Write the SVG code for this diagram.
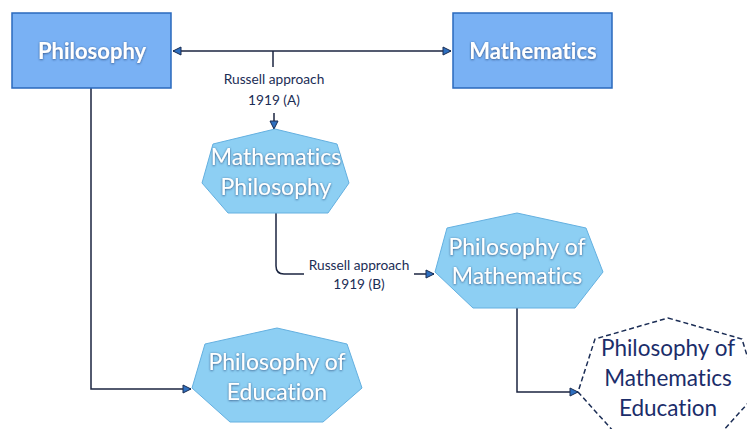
<svg xmlns="http://www.w3.org/2000/svg" width="747" height="429" viewBox="0 0 747 429">
<defs>
<marker id="arr" viewBox="0 0 10 10" refX="9" refY="5" markerWidth="10" markerHeight="10" markerUnits="userSpaceOnUse" orient="auto-start-reverse">
<path d="M1,1 L9,5 L1,9 Z" fill="#2e6fbf" stroke="#1a2d52" stroke-width="1"/>
</marker>
<filter id="sh" x="-10%" y="-20%" width="120%" height="140%">
<feDropShadow dx="0" dy="0.6" stdDeviation="1" flood-color="#1a3a6a" flood-opacity="0.85"/>
</filter>
</defs>
<style>
text{font-variant-ligatures:none}
.rect{fill:#79b1f4;stroke:#2a69bd;stroke-width:1.5}
.hept{fill:#8dcff3;stroke:#64b0e0;stroke-width:1}
.dash{fill:none;stroke:#1b2d55;stroke-width:1.5;stroke-dasharray:5 3}
.bt{font-family:Lato,"Noto Sans",sans-serif;font-weight:bold;font-size:22px;fill:#fff;text-anchor:middle;filter:url(#sh)}
.ht{font-family:Lato,"Noto Sans",sans-serif;font-size:23px;fill:#fff;text-anchor:middle;filter:url(#sh)}
.dt{font-family:Lato,"Noto Sans",sans-serif;font-size:22.5px;fill:#1b2d6a;text-anchor:middle}
.lb{font-family:Lato,"Noto Sans",sans-serif;font-size:13.7px;fill:#1b2d55;text-anchor:middle}
.ln{fill:none;stroke:#1b2540;stroke-width:1.5}
</style>
<g id="connectors">
<path class="ln" d="M173,51 L451,51" marker-start="url(#arr)" marker-end="url(#arr)"/>
<path class="ln" d="M273,51 L273,67"/>
<text class="lb" x="274" y="84">Russell approach</text>
<text class="lb" x="274" y="105">1919 (A)</text>
<path class="ln" d="M274,113 L274,129" marker-end="url(#arr)"/>
<path class="ln" d="M276,213 L276,266 Q276,274 284,274 L304,274"/>
<text class="lb" x="359" y="270">Russell approach</text>
<text class="lb" x="359" y="289">1919 (B)</text>
<path class="ln" d="M414,274 L434,274" marker-end="url(#arr)"/>
<path class="ln" d="M91,88 L91,389 L191,389" marker-end="url(#arr)"/>
<path class="ln" d="M517,308 L517,392 L578,392" marker-end="url(#arr)"/>
</g>
<g id="philosophy">
<rect class="rect" x="12" y="13" width="159" height="75"/>
<text class="bt" x="92" y="59">Philosophy</text>
</g>
<g id="mathematics">
<rect class="rect" x="453" y="13" width="159" height="75"/>
<text class="bt" x="533" y="59">Mathematics</text>
</g>
<g id="math-philosophy">
<polygon class="hept" points="275,129 337,144 349,183 328,213 228,213 202,183 213,144"/>
<text class="ht" x="276" y="165">Mathematics</text>
<text class="ht" x="276" y="195">Philosophy</text>
</g>
<g id="philosophy-of-mathematics">
<polygon class="hept" points="517,213 586,228 603,272 575,308 473,308 435,272 447,228"/>
<text class="ht" x="517" y="255">Philosophy of</text>
<text class="ht" x="517" y="284">Mathematics</text>
</g>
<g id="philosophy-of-education">
<polygon class="hept" points="277,328 347,344 362,388 323,422 230,422 192,388 205,344"/>
<text class="ht" x="277" y="370">Philosophy of</text>
<text class="ht" x="277" y="400">Education</text>
</g>
<g id="philosophy-of-mathematics-education">
<polygon class="dash" points="668,318 742,339 758,392 713,442 623,442 578,392 595,339"/>
<text class="dt" x="668" y="356">Philosophy of</text>
<text class="dt" x="668" y="386">Mathematics</text>
<text class="dt" x="668" y="416">Education</text>
</g>
</svg>
